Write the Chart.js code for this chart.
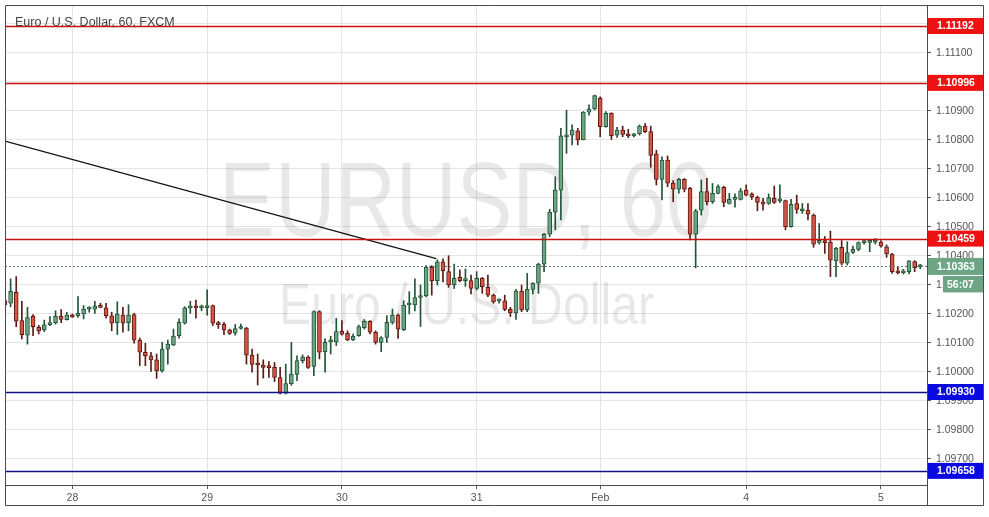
<!DOCTYPE html>
<html>
<head>
<meta charset="utf-8">
<script src="https://cdn.jsdelivr.net/npm/chart.js@4.4.1/dist/chart.umd.min.js"></script>
<style>
    html, body { margin: 0; padding: 0; background: #fff; }
    #wrap { width: 989px; height: 517px; position: relative; }
</style>
</head>
<body>
<div id="wrap"><canvas id="theChart"></canvas></div>
<script>
// EUR/USD hourly candles, index 0 = Jan 27 12:00, weekend hours skipped
var opens = [
    1.10245, 1.10236, 1.10274, 1.10176, 1.10126, 1.10191, 1.10153, 1.10144, 1.10162, 1.10168,
    1.10191, 1.10179, 1.10193, 1.10193, 1.10199, 1.10216, 1.10216, 1.10230, 1.10220, 1.10193,
    1.10169, 1.10195, 1.10169, 1.10197, 1.10109, 1.10067, 1.10055, 1.10041, 1.10003, 1.10078,
    1.10092, 1.10124, 1.10167, 1.10220, 1.10221, 1.10220, 1.10221, 1.10228, 1.10169, 1.10163,
    1.10144, 1.10133, 1.10149, 1.10150, 1.10057, 1.10025, 1.10023, 1.10015, 1.10015, 1.09980,
    1.09926, 1.09959, 1.09991, 1.10038, 1.10050, 1.10018, 1.10207, 1.10069, 1.10103, 1.10103,
    1.10139, 1.10132, 1.10110, 1.10124, 1.10152, 1.10174, 1.10136, 1.10101, 1.10118, 1.10170,
    1.10195, 1.10145, 1.10230, 1.10230, 1.10256, 1.10262, 1.10360, 1.10314, 1.10379, 1.10345,
    1.10299, 1.10325, 1.10314, 1.10314, 1.10287, 1.10322, 1.10291, 1.10264, 1.10244, 1.10244,
    1.10215, 1.10203, 1.10278, 1.10213, 1.10284, 1.10305, 1.10371, 1.10474, 1.10550, 1.10626,
    1.10810, 1.10816, 1.10831, 1.10799, 1.10895, 1.10906, 1.10943, 1.10845, 1.10891, 1.10816,
    1.10833, 1.10820, 1.10813, 1.10820, 1.10847, 1.10828, 1.10751, 1.10663, 1.10730, 1.10650,
    1.10629, 1.10663, 1.10632, 1.10474, 1.10557, 1.10621, 1.10586, 1.10615, 1.10636, 1.10580,
    1.10594, 1.10594, 1.10626, 1.10613, 1.10601, 1.10586, 1.10580, 1.10598, 1.10589, 1.10590,
    1.10500, 1.10580, 1.10555, 1.10557, 1.10540, 1.10446, 1.10446, 1.10446, 1.10382, 1.10429,
    1.10374, 1.10411, 1.10422, 1.10445, 1.10446, 1.10447, 1.10447, 1.10431, 1.10406, 1.10343,
    1.10341, 1.10345, 1.10380, 1.10362
];
var highs = [
    1.10258, 1.10320, 1.10328, 1.10243, 1.10222, 1.10197, 1.10160, 1.10178, 1.10190, 1.10210,
    1.10214, 1.10205, 1.10199, 1.10259, 1.10228, 1.10224, 1.10243, 1.10236, 1.10236, 1.10205,
    1.10241, 1.10222, 1.10231, 1.10201, 1.10116, 1.10098, 1.10067, 1.10061, 1.10101, 1.10109,
    1.10147, 1.10182, 1.10224, 1.10243, 1.10247, 1.10230, 1.10282, 1.10230, 1.10174, 1.10170,
    1.10147, 1.10163, 1.10164, 1.10153, 1.10078, 1.10061, 1.10041, 1.10035, 1.10032, 1.10015,
    1.10026, 1.10101, 1.10055, 1.10058, 1.10055, 1.10210, 1.10210, 1.10113, 1.10122, 1.10184,
    1.10176, 1.10141, 1.10130, 1.10161, 1.10180, 1.10176, 1.10141, 1.10121, 1.10193, 1.10216,
    1.10199, 1.10245, 1.10276, 1.10320, 1.10299, 1.10366, 1.10366, 1.10386, 1.10389, 1.10400,
    1.10371, 1.10351, 1.10354, 1.10333, 1.10345, 1.10325, 1.10333, 1.10268, 1.10250, 1.10264,
    1.10222, 1.10284, 1.10299, 1.10339, 1.10307, 1.10374, 1.10477, 1.10560, 1.10672, 1.10839,
    1.10902, 1.10851, 1.10839, 1.10897, 1.10920, 1.10954, 1.10948, 1.10897, 1.10893, 1.10843,
    1.10847, 1.10836, 1.10822, 1.10851, 1.10856, 1.10847, 1.10764, 1.10741, 1.10744, 1.10659,
    1.10667, 1.10666, 1.10636, 1.10560, 1.10661, 1.10667, 1.10649, 1.10644, 1.10640, 1.10615,
    1.10613, 1.10632, 1.10644, 1.10617, 1.10606, 1.10598, 1.10613, 1.10640, 1.10644, 1.10592,
    1.10594, 1.10609, 1.10580, 1.10580, 1.10544, 1.10511, 1.10466, 1.10485, 1.10429, 1.10452,
    1.10448, 1.10433, 1.10448, 1.10454, 1.10454, 1.10460, 1.10452, 1.10437, 1.10408, 1.10362,
    1.10353, 1.10383, 1.10383, 1.10370
];
var lows = [
    1.10222, 1.10224, 1.10155, 1.10113, 1.10095, 1.10124, 1.10130, 1.10138, 1.10159, 1.10164,
    1.10169, 1.10178, 1.10187, 1.10187, 1.10182, 1.10205, 1.10201, 1.10220, 1.10185, 1.10141,
    1.10128, 1.10136, 1.10141, 1.10098, 1.10021, 1.10021, 1.10001, 1.09977, 1.09998, 1.10026,
    1.10090, 1.10116, 1.10164, 1.10201, 1.10185, 1.10210, 1.10195, 1.10159, 1.10149, 1.10128,
    1.10128, 1.10126, 1.10147, 1.10026, 1.09998, 1.09954, 1.09978, 1.09980, 1.09966, 1.09923,
    1.09923, 1.09953, 1.09969, 1.10030, 1.10011, 1.09986, 1.10044, 1.09998, 1.10061, 1.10090,
    1.10126, 1.10107, 1.10107, 1.10122, 1.10147, 1.10130, 1.10095, 1.10069, 1.10101, 1.10164,
    1.10115, 1.10141, 1.10199, 1.10210, 1.10156, 1.10259, 1.10264, 1.10299, 1.10310, 1.10291,
    1.10287, 1.10310, 1.10294, 1.10268, 1.10282, 1.10270, 1.10259, 1.10236, 1.10236, 1.10210,
    1.10190, 1.10180, 1.10207, 1.10207, 1.10268, 1.10270, 1.10345, 1.10466, 1.10489, 1.10523,
    1.10753, 1.10782, 1.10782, 1.10799, 1.10885, 1.10902, 1.10810, 1.10843, 1.10801, 1.10808,
    1.10810, 1.10807, 1.10810, 1.10816, 1.10824, 1.10705, 1.10644, 1.10592, 1.10638, 1.10586,
    1.10615, 1.10620, 1.10454, 1.10358, 1.10540, 1.10575, 1.10580, 1.10613, 1.10569, 1.10578,
    1.10567, 1.10592, 1.10606, 1.10594, 1.10555, 1.10557, 1.10577, 1.10580, 1.10583, 1.10489,
    1.10498, 1.10546, 1.10546, 1.10523, 1.10429, 1.10440, 1.10408, 1.10328, 1.10328, 1.10368,
    1.10368, 1.10408, 1.10417, 1.10440, 1.10414, 1.10440, 1.10429, 1.10394, 1.10339, 1.10337,
    1.10337, 1.10337, 1.10345, 1.10355
];
var closes = [
    1.10230, 1.10277, 1.10174, 1.10128, 1.10187, 1.10155, 1.10141, 1.10162, 1.10169, 1.10191,
    1.10180, 1.10195, 1.10189, 1.10201, 1.10216, 1.10217, 1.10226, 1.10222, 1.10193, 1.10167,
    1.10199, 1.10167, 1.10195, 1.10109, 1.10067, 1.10055, 1.10041, 1.10003, 1.10078, 1.10095,
    1.10123, 1.10170, 1.10220, 1.10221, 1.10220, 1.10221, 1.10228, 1.10167, 1.10162, 1.10144,
    1.10132, 1.10149, 1.10150, 1.10057, 1.10025, 1.10023, 1.10015, 1.10014, 1.09980, 1.09926,
    1.09959, 1.09992, 1.10038, 1.10050, 1.10015, 1.10207, 1.10067, 1.10101, 1.10104, 1.10138,
    1.10129, 1.10110, 1.10122, 1.10156, 1.10174, 1.10136, 1.10101, 1.10118, 1.10170, 1.10195,
    1.10147, 1.10230, 1.10231, 1.10256, 1.10262, 1.10360, 1.10314, 1.10379, 1.10348, 1.10299,
    1.10322, 1.10314, 1.10316, 1.10287, 1.10322, 1.10293, 1.10264, 1.10241, 1.10244, 1.10215,
    1.10203, 1.10278, 1.10213, 1.10284, 1.10305, 1.10371, 1.10474, 1.10550, 1.10626, 1.10813,
    1.10816, 1.10833, 1.10799, 1.10895, 1.10906, 1.10952, 1.10845, 1.10891, 1.10814, 1.10833,
    1.10818, 1.10813, 1.10820, 1.10847, 1.10828, 1.10746, 1.10663, 1.10730, 1.10650, 1.10629,
    1.10663, 1.10629, 1.10474, 1.10555, 1.10621, 1.10586, 1.10615, 1.10638, 1.10584, 1.10594,
    1.10594, 1.10624, 1.10609, 1.10603, 1.10584, 1.10578, 1.10600, 1.10584, 1.10589, 1.10500,
    1.10577, 1.10560, 1.10555, 1.10543, 1.10440, 1.10446, 1.10445, 1.10385, 1.10425, 1.10374,
    1.10411, 1.10422, 1.10445, 1.10446, 1.10447, 1.10448, 1.10433, 1.10406, 1.10345, 1.10341,
    1.10348, 1.10382, 1.10359, 1.10363
];

// time axis: candle index of each day label
var dayTicks = [12, 36, 60, 84, 106, 132, 156];
var dayLabels = ['28', '29', '30', '31', 'Feb', '4', '5'];

// price axis
var priceTicks = [1.097, 1.098, 1.099, 1.100, 1.101, 1.102, 1.103, 1.104,
                  1.105, 1.106, 1.107, 1.108, 1.109, 1.110, 1.111, 1.112];
var priceMin = 1.096093;
var priceMax = 1.112645;

// drawn levels
var resistanceLevels = [1.11192, 1.10996, 1.10459];
var supportLevels = [1.09930, 1.09658];
var lastPrice = 1.10363;
var countdown = '56:07';

// trend line (candle index, price)
var trendX = [0, 76.8];
var trendY = [1.10795, 1.10390];

var titleText = 'Euro / U.S. Dollar, 60, FXCM';
var wmSymbol = 'EURUSD, 60';
var wmName = 'Euro / U.S. Dollar';

var upFill = '#6ba583', downFill = '#d75442';
var upEdge = '#225437', downEdge = '#5b1a13';
var axisFont = 'Liberation Sans';

var isUp = opens.map(function (o, i) { return closes[i] >= o; });
var bodies = opens.map(function (o, i) { return { x: i, y: [o, closes[i]] }; });
var wicks = opens.map(function (o, i) { return { x: i, y: [lows[i], highs[i]] }; });
var trendPoints = trendX.map(function (x, i) { return { x: x, y: trendY[i] }; });

function boxLabel(ctx, y, x, w, h, bg, text, fg) {
    ctx.fillStyle = bg;
    ctx.fillRect(x, y - h / 2, w, h);
    ctx.fillStyle = fg;
    ctx.font = 'bold 10.5px "' + axisFont + '"';
    ctx.textAlign = 'left';
    ctx.textBaseline = 'middle';
    ctx.fillText(text, x + 9, y + 0.5);
}

function hLine(ctx, a, y, color) {
    ctx.strokeStyle = color;
    ctx.beginPath();
    ctx.moveTo(a.left, y);
    ctx.lineTo(a.right, y);
    ctx.stroke();
}

var decor = {
    id: 'decor',
    beforeDatasetsDraw: function (chart) {
        var ctx = chart.ctx, a = chart.chartArea;
        var cx = (a.left + a.right) / 2;
        ctx.save();
        ctx.fillStyle = 'rgba(0,0,0,0.09)';
        ctx.textAlign = 'left';
        ctx.textBaseline = 'alphabetic';
        ctx.font = '106px "' + axisFont + '"';
        var w1 = ctx.measureText(wmSymbol).width;
        ctx.save();
        ctx.translate(cx - 247, 236);
        ctx.scale(494 / w1, 1);
        ctx.fillText(wmSymbol, 0, 0);
        ctx.restore();
        ctx.font = '57px "' + axisFont + '"';
        var w2 = ctx.measureText(wmName).width;
        ctx.translate(cx - 187, 324);
        ctx.scale(375 / w2, 1);
        ctx.fillText(wmName, 0, 0);
        ctx.restore();
    },
    afterDatasetsDraw: function (chart) {
        var ctx = chart.ctx, a = chart.chartArea, ys = chart.scales.y;
        ctx.save();
        ctx.beginPath();
        ctx.rect(a.left, a.top, a.right - a.left, a.bottom - a.top);
        ctx.clip();
        // last price dotted line
        ctx.lineWidth = 1;
        ctx.setLineDash([2, 2]);
        hLine(ctx, a, Math.round(ys.getPixelForValue(lastPrice)) + 0.5, '#5d7a68');
        ctx.setLineDash([]);
        ctx.lineWidth = 1.4;
        resistanceLevels.forEach(function (v) {
            hLine(ctx, a, Math.round(ys.getPixelForValue(v)) + 0.5, '#cc1010');
        });
        supportLevels.forEach(function (v) {
            hLine(ctx, a, Math.round(ys.getPixelForValue(v)) + 0.5, '#10108a');
        });
        ctx.restore();
    },
    afterDraw: function (chart) {
        var ctx = chart.ctx, a = chart.chartArea, ys = chart.scales.y;
        var axisLeft = a.right + 1;
        var outerRight = chart.width - 5.5;
        var outerBottom = chart.scales.x.bottom + 0.5;
        ctx.save();
        // frame
        ctx.strokeStyle = '#4a4a4a';
        ctx.lineWidth = 1;
        ctx.beginPath();
        ctx.moveTo(a.left + 0.5, a.top + 0.5);
        ctx.lineTo(outerRight, a.top + 0.5);
        ctx.lineTo(outerRight, outerBottom);
        ctx.lineTo(a.left + 0.5, outerBottom);
        ctx.closePath();
        ctx.moveTo(Math.round(a.right) + 0.5, a.top);
        ctx.lineTo(Math.round(a.right) + 0.5, outerBottom);
        ctx.stroke();

        // title
        ctx.fillStyle = '#444';
        ctx.font = '12.5px "' + axisFont + '"';
        ctx.textAlign = 'left';
        ctx.textBaseline = 'alphabetic';
        ctx.fillText(titleText, a.left + 10, a.top + 21);

        // price labels
        var bw = outerRight - axisLeft - 0.5;
        resistanceLevels.forEach(function (v) {
            boxLabel(ctx, ys.getPixelForValue(v), axisLeft, bw, 16, '#ee1111', v.toFixed(5), '#fff');
        });
        supportLevels.forEach(function (v) {
            boxLabel(ctx, ys.getPixelForValue(v), axisLeft, bw, 16, '#0a0ae0', v.toFixed(5), '#fff');
        });
        var ly = ys.getPixelForValue(lastPrice);
        boxLabel(ctx, ly, axisLeft, bw, 17, upFill, lastPrice.toFixed(5), '#fff');
        ctx.fillStyle = upFill;
        ctx.fillRect(axisLeft + 15, ly + 9.5, bw - 15, 16.5);
        ctx.fillStyle = '#fff';
        ctx.font = 'bold 10.5px "' + axisFont + '"';
        ctx.textBaseline = 'middle';
        ctx.fillText(countdown, axisLeft + 19, ly + 18.3);
        ctx.restore();
    }
};

var ctx = document.getElementById('theChart').getContext('2d');
var theChart = new Chart(ctx, {
    type: 'bar',
    data: {
        datasets: [{
            type: 'line',
            data: trendPoints,
            borderColor: '#111',
            borderWidth: 1.2,
            pointRadius: 0,
            order: 0
        }, {
            data: bodies,
            backgroundColor: isUp.map(function (u) { return u ? upFill : downFill; }),
            borderColor: isUp.map(function (u) { return u ? upEdge : downEdge; }),
            borderWidth: 1,
            borderSkipped: false,
            barThickness: 4,
            minBarLength: 2,
            grouped: false,
            order: 1
        }, {
            data: wicks,
            backgroundColor: isUp.map(function (u) { return u ? upEdge : downEdge; }),
            barThickness: 1,
            grouped: false,
            order: 2
        }]
    },
    options: {
        responsive: true,
        maintainAspectRatio: false,
        animation: false,
        layout: { padding: { left: 5, top: 5, right: 6, bottom: 12 } },
        plugins: { legend: { display: false }, tooltip: { enabled: false } },
        scales: {
            x: {
                type: 'linear',
                min: 0,
                max: 164.2,
                offset: false,
                afterFit: function (s) { s.height = 20; s.paddingLeft = 0; s.paddingRight = 0; },
                afterBuildTicks: function (s) { s.ticks = dayTicks.map(function (v) { return { value: v }; }); },
                ticks: {
                    autoSkip: false,
                    maxRotation: 0,
                    padding: 3,
                    color: '#555',
                    font: { family: axisFont, size: 10.5 },
                    callback: function (v, i) { return dayLabels[i]; }
                },
                grid: { offset: false, color: '#e4e4e4', tickLength: 4, tickColor: '#555' },
                border: { display: true, color: '#4a4a4a' }
            },
            y: {
                position: 'right',
                min: priceMin,
                max: priceMax,
                afterFit: function (s) { s.width = 56; s.paddingTop = 0; s.paddingBottom = 0; },
                afterBuildTicks: function (s) { s.ticks = priceTicks.map(function (v) { return { value: v }; }); },
                ticks: {
                    autoSkip: false,
                    padding: 5,
                    color: '#555',
                    font: { family: axisFont, size: 10.5 },
                    callback: function (v) { return v.toFixed(5); }
                },
                grid: { color: '#e4e4e4', tickLength: 4, tickColor: '#555' },
                border: { display: true, color: '#4a4a4a' }
            }
        }
    },
    plugins: [decor]
});
</script>
</body>
</html>
